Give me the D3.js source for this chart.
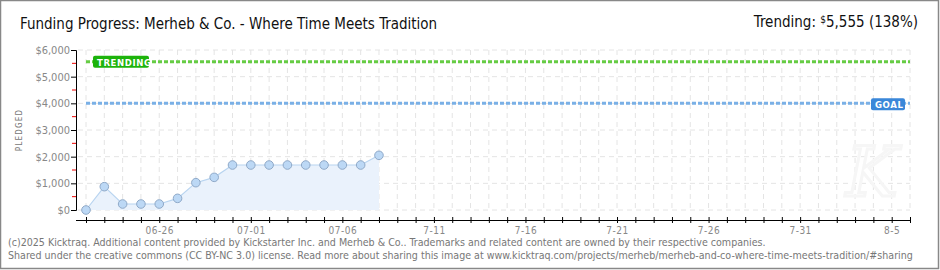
<!DOCTYPE html>
<html><head><meta charset="utf-8">
<script src="https://cdn.jsdelivr.net/npm/d3@7"></script>
<style>body{margin:0;background:#fff}svg{display:block}</style>
</head><body>
<script>
const days = ["06-22","06-23","06-24","06-25","06-26","06-27","06-28","06-29","06-30","07-01","07-02","07-03","07-04","07-05","07-06","07-07","07-08"];
const pledged = [0,875,225,225,225,437,1025,1225,1687,1687,1687,1687,1687,1687,1687,1687,2050];
const xTickLabels = ["06-26","07-01","07-06","7-11","7-16","7-21","7-26","7-31","8-5"];
const yTicks = [0,1000,2000,3000,4000,5000,6000];
const goal = 4000;
const trending = 5555;
const totalDays = 46; // 06-22 .. 08-06

const W=940,H=270;
const svg=d3.select("body").append("svg").attr("width",W).attr("height",H);
const font="'DejaVu Sans Condensed','DejaVu Sans',sans-serif";

svg.append("rect").attr("x",0.5).attr("y",0.5).attr("width",W-2).attr("height",H-2)
  .attr("fill","#fff").attr("stroke","#888").attr("stroke-width",1.5);

const x=d3.scaleLinear().domain([0,totalDays-1]).range([86,910]);
const y=d3.scaleLinear().domain([0,6000]).range([210,50]);

// grid
const g=svg.append("g");
g.selectAll(".vg").data(d3.range(0,totalDays)).join("line")
  .attr("x1",d=>x(d)).attr("x2",d=>x(d)).attr("y1",50).attr("y2",212)
  .attr("stroke","#e4e4e4").attr("stroke-dasharray","5,4");
g.selectAll(".hg").data(yTicks).join("line")
  .attr("x1",78).attr("x2",910).attr("y1",d=>y(d)).attr("y2",d=>y(d))
  .attr("stroke","#e4e4e4").attr("stroke-dasharray","5,4");

// watermark
svg.append("text").attr("x",872).attr("y",196).attr("text-anchor","middle")
  .attr("font-family","'DejaVu Serif',serif").attr("font-style","italic").attr("font-size",70)
  .attr("fill","none").attr("stroke","#f6f6f6").attr("stroke-width",3).text("K");

// goal & trending lines
svg.append("line").attr("x1",x(0)).attr("x2",910).attr("y1",y(trending)).attr("y2",y(trending))
  .attr("stroke","#66cc44").attr("stroke-width",3).attr("stroke-dasharray","4,2");
svg.append("line").attr("x1",x(0)).attr("x2",910).attr("y1",y(goal)).attr("y2",y(goal))
  .attr("stroke","#7ab0e6").attr("stroke-width",3).attr("stroke-dasharray","4,2");

// area + line
const pts=pledged.map((v,i)=>[i,v]);
svg.append("path").datum(pts)
  .attr("d",d3.area().x(d=>x(d[0])).y0(y(0)).y1(d=>y(d[1])))
  .attr("fill","#eaf2fc");
svg.append("path").datum(pts)
  .attr("d",d3.line().x(d=>x(d[0])).y(d=>y(d[1])))
  .attr("fill","none").attr("stroke","#b8d4f0").attr("stroke-width",1.2);
svg.selectAll(".pt").data(pts).join("circle")
  .attr("cx",d=>x(d[0])).attr("cy",d=>y(d[1])).attr("r",4.3)
  .attr("fill","#bcd8f5").attr("stroke","#8fa9c8").attr("stroke-width",1);

// labels on lines
function tag(x0,yc,w,label,color){
  svg.append("rect").attr("x",x0).attr("y",yc-6).attr("width",w).attr("height",12).attr("rx",2)
    .attr("fill",color);
  svg.append("text").attr("x",x0+4).attr("y",yc+4).attr("font-family",font).attr("font-size",9.5)
    .attr("font-weight","bold").attr("fill","#fff").attr("letter-spacing",0.6).text(label);
}
tag(93,y(trending),56,"TRENDING","#1db30b");
tag(871,y(goal)+1,34,"GOAL","#3a87d9");

// y axis
const ya=svg.append("g").attr("transform","translate(76,0)")
  .call(d3.axisLeft(y).tickValues(yTicks).tickSize(5).tickFormat(d=>"$"+d3.format(",")(d)));
ya.select(".domain").attr("stroke","#000");
ya.selectAll(".tick line").attr("stroke","#000");
ya.selectAll(".tick text").attr("font-family",font).attr("font-size",11).attr("fill","#888").attr("x",-6);
svg.selectAll(".mt").data(d3.range(500,6000,1000)).join("line")
  .attr("x1",72).attr("x2",76).attr("y1",d=>y(d)).attr("y2",d=>y(d)).attr("stroke","#e00");
svg.append("text").attr("transform","translate(22,130) rotate(-90)").attr("text-anchor","middle")
  .attr("font-family",font).attr("font-size",8).attr("fill","#777").attr("letter-spacing",1.2).text("PLEDGED");

// x axis
const xa=svg.append("g").attr("transform","translate(0,220)")
  .call(d3.axisBottom(x).tickValues(d3.range(0,totalDays)).tickSize(5).tickSizeOuter(0)
    .tickFormat(d=>{const k=(d-4)/5; return (d>=4&&(d-4)%5===0)?xTickLabels[k]:"";}));
xa.select(".domain").attr("stroke","#000").attr("d","M76,0.5H911");
xa.selectAll(".tick line").attr("stroke","#000").attr("y1",-3).attr("y2",3);
xa.selectAll(".tick text").attr("font-family",font).attr("font-size",10).attr("fill","#888").attr("dy","0.55em").attr("letter-spacing",0.5);

// titles
svg.append("text").attr("x",20).attr("y",29).attr("font-family",font).attr("font-size",15)
  .attr("fill","#111").text("Funding Progress: Merheb & Co. - Where Time Meets Tradition");
const tr=svg.append("text").attr("x",918).attr("y",27).attr("text-anchor","end").attr("font-family",font)
  .attr("font-size",15).attr("fill","#111");
tr.append("tspan").text("Trending:  ");
tr.append("tspan").attr("font-size",10).attr("dy",-4).text("$");
tr.append("tspan").attr("dy",4).text("5,555 (138%)");

// footer
const foot=["(c)2025 Kicktraq. Additional content provided by Kickstarter Inc. and Merheb & Co.. Trademarks and related content are owned by their respective companies.",
"Shared under the creative commons (CC BY-NC 3.0) license. Read more about sharing this image at www.kicktraq.com/projects/merheb/merheb-and-co-where-time-meets-tradition/#sharing"];
svg.selectAll(".ft").data(foot).join("text").attr("x",8).attr("y",(d,i)=>246+i*13)
  .attr("font-family",font).attr("font-size",10.6).attr("fill","#777").text(d=>d);
</script>
</body></html>
